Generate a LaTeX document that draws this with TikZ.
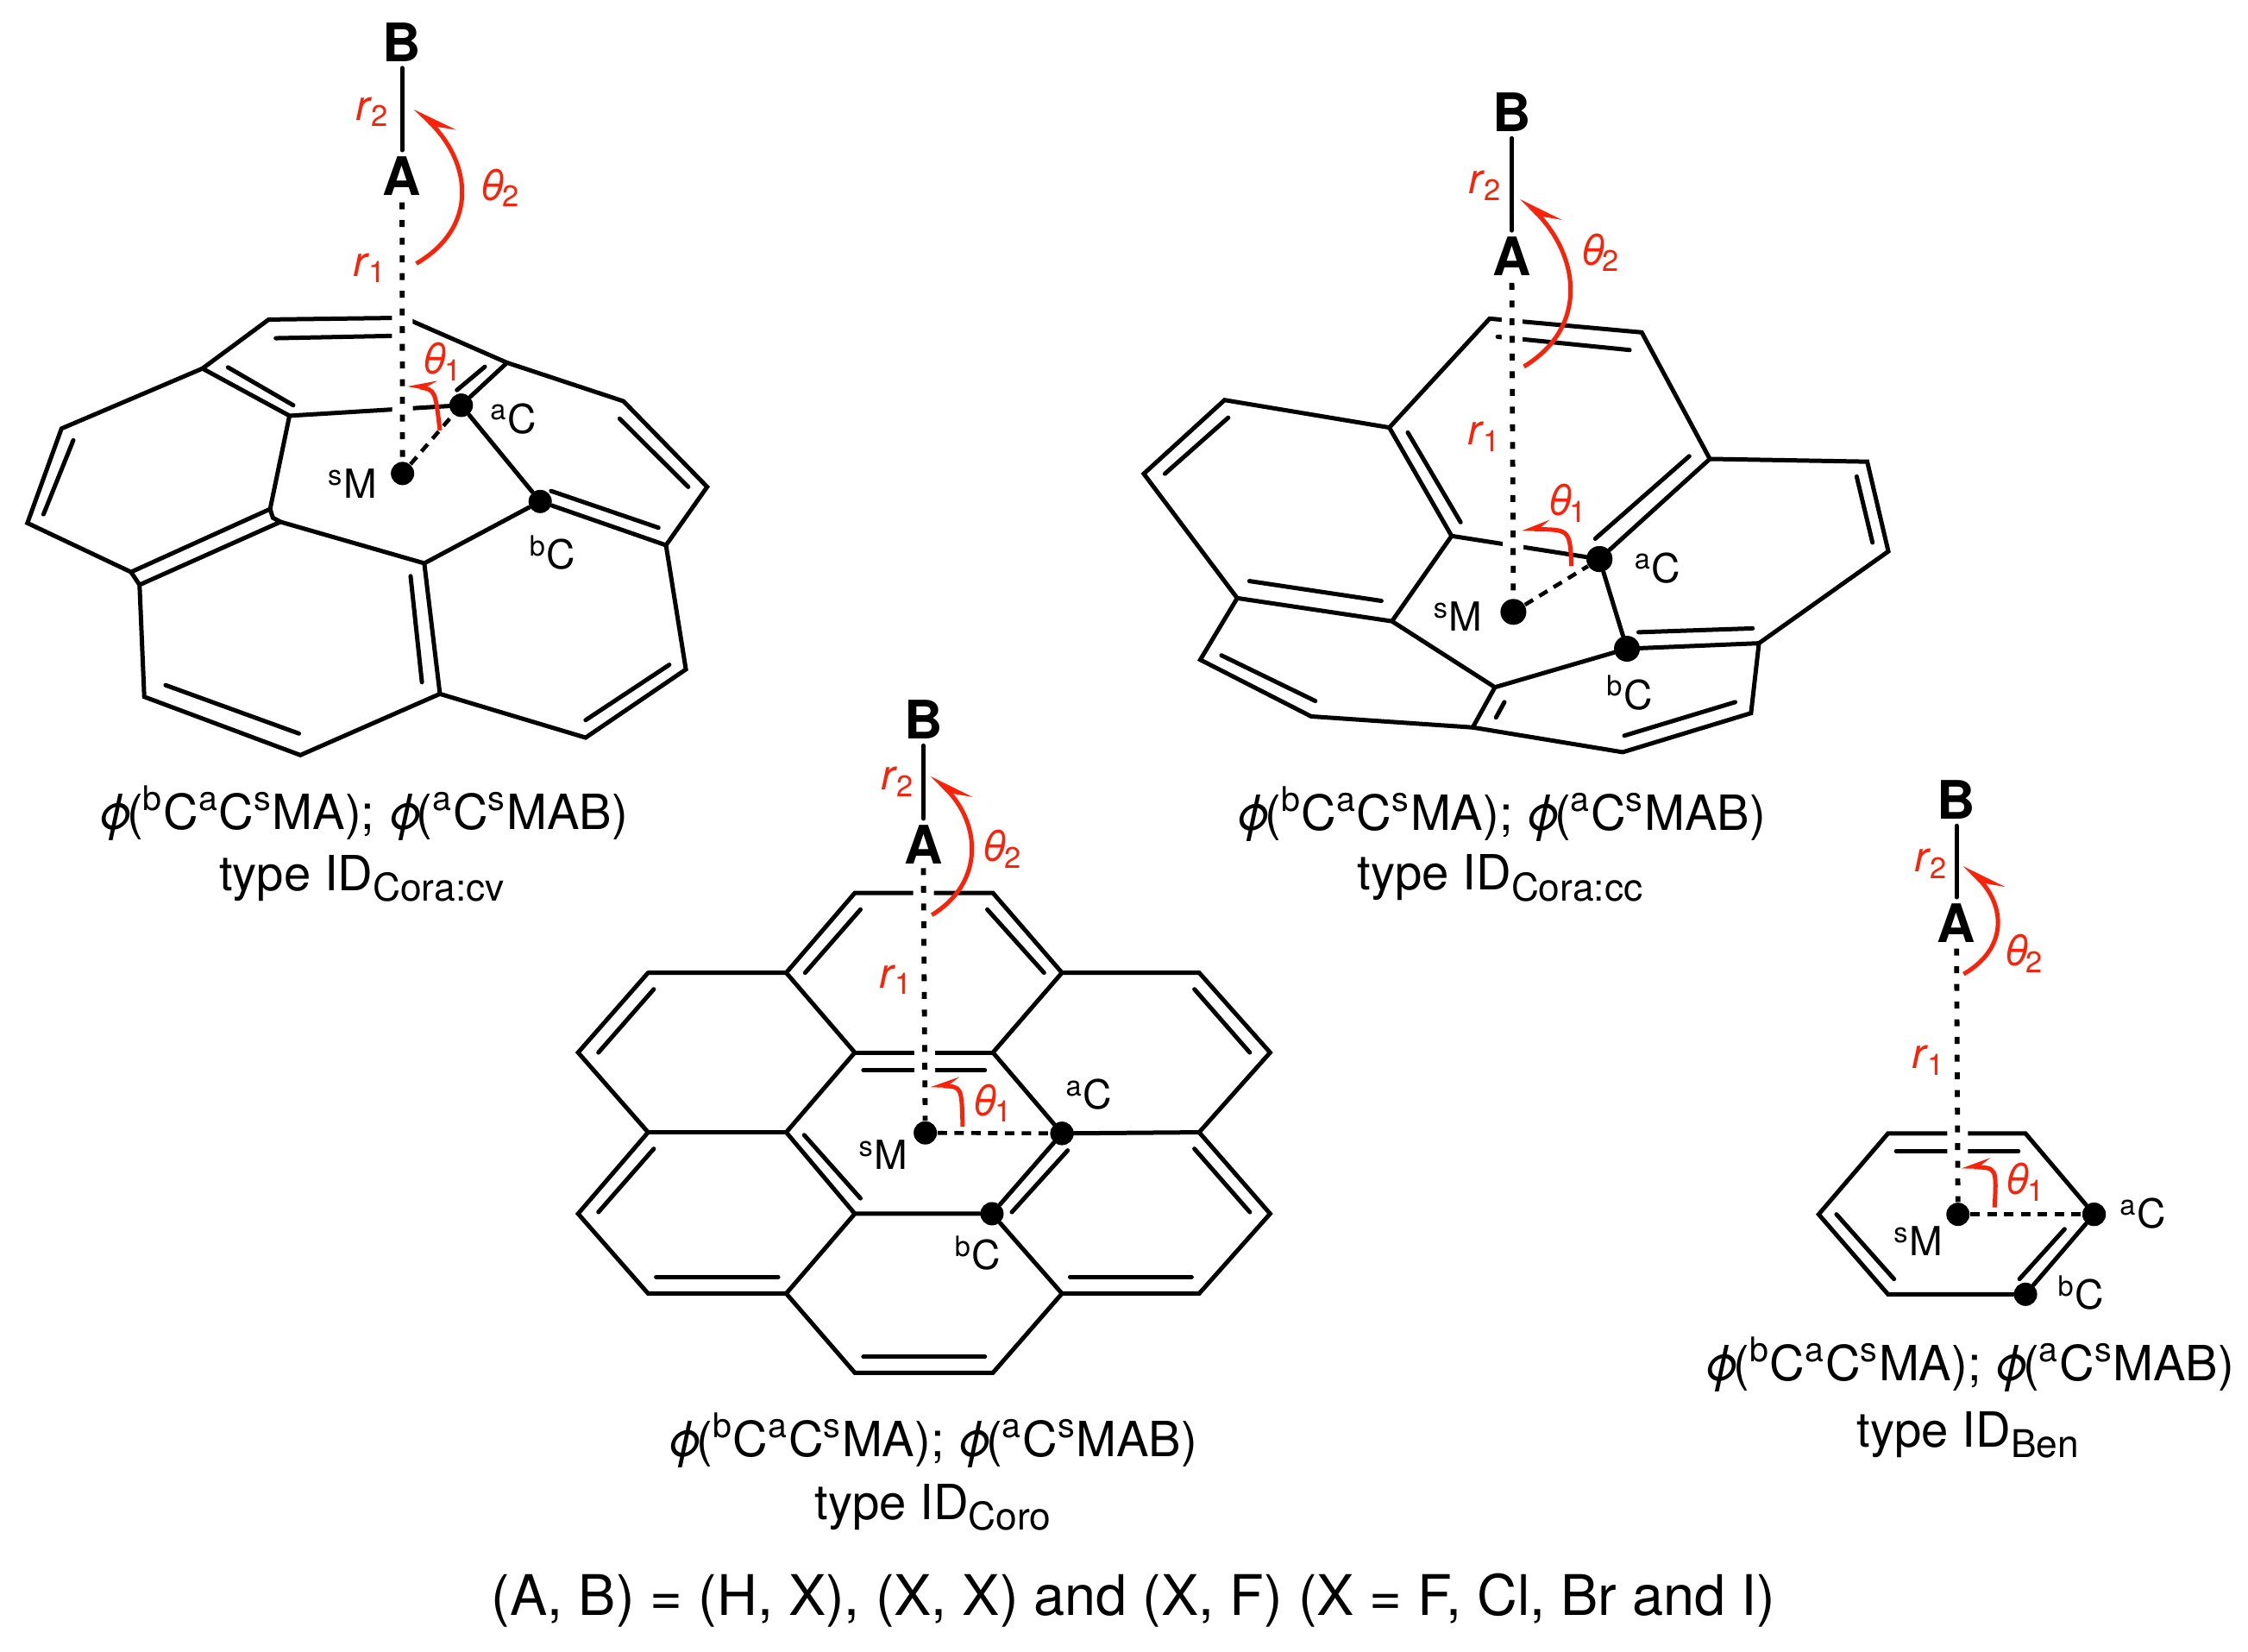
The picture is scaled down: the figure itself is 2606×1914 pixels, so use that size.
\documentclass[tikz,border=0pt]{standalone}
\usepackage{fontspec}
\setmainfont{TeX Gyre Heros}
\usetikzlibrary{arrows.meta}
\newcommand{\phiang}{\textit{ϕ}\kern-.12em}
\newcommand{\supb}[1]{\textsuperscript{#1}}
\newcommand{\subb}[1]{\raisebox{-.22em}{\fontsize{12.6}{13}\selectfont #1}}
\newcommand{\labA}{\phiang(\supb{b}C\supb{a}C\supb{s}MA); \phiang(\supb{a}C\supb{s}MAB)}
\newcommand{\rOne}{\textit{r}\kern-.02em\textsubscript{1}}
\newcommand{\rTwo}{\textit{r}\kern-.02em\textsubscript{2}}
\newcommand{\thOne}{\textit{θ}\kern-.06em\textsubscript{1}}
\newcommand{\thTwo}{\textit{θ}\kern-.06em\textsubscript{2}}
\definecolor{redmark}{RGB}{250,35,10}
\tikzset{
  bond/.style={black,line width=.5mm,line join=miter,line cap=round},
  dotbond/.style={black,line width=.58mm,dash pattern=on .8mm off 1.25mm},
  dashbond/.style={black,line width=.46mm,dash pattern=on 1.1mm off .85mm},
  halo/.style={white,line width=2.4mm},
  angarc/.style={redmark,line width=.5mm,-{Stealth[harpoon,swap,length=4.4mm,width=3mm,inset=2.1mm]}},
  smallarc/.style={redmark,line width=.5mm,-{Stealth[harpoon,swap,length=2.8mm,width=2.2mm,inset=1.3mm]}},
  atomlbl/.style={font=\fontsize{17.5}{18}\selectfont\bfseries,inner sep=.7mm},
  smalllbl/.style={font=\fontsize{13.2}{14}\selectfont,inner sep=0pt},
  redlbl/.style={font=\fontsize{14}{15}\selectfont,text=redmark,inner sep=0pt},
  caplbl/.style={font=\fontsize{16}{17}\selectfont,inner sep=0pt},
  dotatom/.style={circle,fill=black,inner sep=0pt,minimum size=2.7mm},
}
\begin{document}
\begin{tikzpicture}[x=.1mm,y=-.1mm]
\useasboundingbox (0,0) rectangle (2606,1914);
\fill[white] (0,0) rectangle (2606,1914);

%% ---------- type ID Cora:cv ----------
\begin{scope}[x=.054845mm,y=-.0676mm]
\coordinate (a1) at (568,548); \coordinate (a2) at (1072,622); \coordinate (a3) at (428,632);
\coordinate (a4) at (612,713); \coordinate (a5) at (1318,688); \coordinate (a6) at (1495,835);
\coordinate (a7) at (1408,935); \coordinate (a8) at (1450,1148); \coordinate (a9) at (1238,1265);
\coordinate (a10) at (930,1190); \coordinate (a11) at (897,966); \coordinate (a12) at (577,888);
\coordinate (a13) at (593,895); \coordinate (a14) at (295,1003); \coordinate (a15) at (277,981);
\coordinate (a16) at (571,873); \coordinate (a17) at (58,897); \coordinate (a18) at (130,735);
\coordinate (a19) at (305,1195); \coordinate (a20) at (635,1295); \coordinate (a21) at (855,545);
\node[dotatom] (aM) at (851,812) {};
\node[dotatom] (aa) at (975,695) {};
\node[dotatom] (ab) at (1142,860) {};
\node[atomlbl] (aB) at (850,72) {B};
\node[atomlbl] (aA) at (850,302) {A};
\draw[bond] (a21) -- (a1) -- (a3) -- (a4) -- (aa);
\draw[bond] (a21) -- (a2) -- (a5) -- (a6) -- (a7) -- (a8) -- (a9) -- (a10) -- (a20) -- (a19) -- (a14) -- (a13) -- (a11) -- (ab) -- (a7);
\draw[bond] (a2) -- (aa) -- (ab);
\draw[bond] (a10) -- (a11);
\draw[bond] (a4) -- (a16) -- (a12) -- (a13);
\draw[bond] (a16) -- (a15) -- (a17) -- (a18) -- (a3);
\draw[bond] (a15) -- (a14);
\draw[bond] (583,580) -- (830,576);
\draw[bond] (482,630) -- (620,695);
\draw[bond] (966,669) -- (1025,629);
\draw[bond] (1310,718) -- (1455,835);
\draw[bond] (1165,842) -- (1392,905);
\draw[bond] (1238,1235) -- (1415,1140);
\draw[bond] (892,1170) -- (868,988);
\draw[bond] (92,882) -- (155,755);
\draw[bond] (350,1175) -- (632,1258);
\draw[halo] (aA.south) -- (aM);
\draw[bond] (aB) -- (aA);
\draw[dotbond] (aA) ++(0,45) -- (aM);
\draw[dashbond] (aM) -- (aa);
\node[dotatom] at (aa) {};
\draw[angarc] (880,452) .. controls (1011,390) and (998,281) .. (878,185);
\draw[smallarc] (930,738) .. controls (920,669) .. (862,660);
\node[redlbl] (ar2) at (788,192) {\rTwo};
\node[redlbl] (ath2) at (1058,322) {\thTwo};
\node[redlbl] (ar1) at (783,460) {\rOne};
\node[redlbl] (ath1) at (935,620) {\thOne};
\node[smalllbl] (alab1) at (1085,718) {\supb{a}C};
\node[smalllbl] (alab2) at (745,830) {\supb{s}M};
\node[smalllbl] (alab3) at (1168,948) {\supb{b}C};
\node[caplbl] (acap1) at (768,1395) {\labA};
\node[caplbl] (acap2) at (765,1507) {type ID\subb{Cora:cv}};
\end{scope}

%% ---------- type ID Cora:cc ----------
\begin{scope}[xshift=128mm,yshift=-6mm,x=.061224mm,y=-.06378mm]
\coordinate (b1) at (730,485); \coordinate (b2) at (1018,510); \coordinate (b3) at (540,683);
\coordinate (b4) at (658,880); \coordinate (b5) at (1147,740); \coordinate (b6) at (1445,745);
\coordinate (b7) at (1485,908); \coordinate (b8) at (1240,1075); \coordinate (b9) at (1225,1202);
\coordinate (b10) at (982,1273); \coordinate (b11) at (698,1228); \coordinate (b12) at (740,1155);
\coordinate (b13) at (545,1035); \coordinate (b14) at (252,993); \coordinate (b15) at (228,633);
\coordinate (b16) at (75,767); \coordinate (b17) at (182,1105); \coordinate (b18) at (392,1208);
\node[dotatom,minimum size=3mm] (bM) at (775,1018) {};
\node[dotatom,minimum size=3mm] (ba) at (938,922) {};
\node[dotatom,minimum size=3mm] (bb) at (990,1085) {};
\node[atomlbl] (bB) at (772,110) {B};
\node[atomlbl] (bA) at (772,372) {A};
\draw[bond] (b3) -- (b1) -- (b2) -- (b5) -- (b6) -- (b7) -- (b8) -- (b9) -- (b10) -- (b11) -- (b18) -- (b17) -- (b14) -- (b16) -- (b15) -- (b3) -- (b4) -- (ba) -- (bb) -- (b12) -- (b13) -- (b14);
\draw[bond] (b5) -- (ba);
\draw[bond] (bb) -- (b8);
\draw[bond] (b11) -- (b12);
\draw[bond] (b13) -- (b4);
\draw[bond] (745,518) -- (995,542);
\draw[bond] (575,692) -- (675,855);
\draw[bond] (1108,735) -- (930,885);
\draw[bond] (1425,772) -- (1455,892);
\draw[bond] (1228,1048) -- (1012,1055);
\draw[bond] (985,1243) -- (1195,1182);
\draw[bond] (742,1210) -- (758,1182);
\draw[bond] (275,962) -- (525,998);
\draw[bond] (115,767) -- (235,665);
\draw[bond] (222,1097) -- (400,1180);
\draw[halo] (bA.south) -- (bM);
\draw[bond] (bB) -- (bA);
\draw[dotbond] (bA) ++(0,48) -- (bM);
\draw[dashbond] (bM) -- (ba);
\node[dotatom,minimum size=3mm] at (ba) {};
\draw[angarc] (795,572) .. controls (917,501) and (901,372) .. (790,265);
\draw[smallarc] (885,935) .. controls (882,868) .. (790,868);
\node[redlbl] (br2) at (722,243) {\rTwo};
\node[redlbl] (bth2) at (940,365) {\thTwo};
\node[redlbl] (br1) at (720,700) {\rOne};
\node[redlbl] (bth1) at (878,820) {\thOne};
\node[smalllbl] (blab1) at (1048,938) {\supb{a}C};
\node[smalllbl] (blab2) at (670,1026) {\supb{s}M};
\node[smalllbl] (blab3) at (995,1165) {\supb{b}C};
\node[caplbl] (bcap1) at (752,1385) {\labA};
\node[caplbl] (bcap2) at (750,1502) {type ID\subb{Cora:cc}};
\end{scope}

%% ---------- type ID Coro ----------
\begin{scope}[xshift=64mm,yshift=-78mm,x=.054845mm,y=-.06378mm]
\coordinate (c1) at (640,400); \coordinate (c2) at (932,400);
\coordinate (c3) at (203,545); \coordinate (c4) at (495,545); \coordinate (c5) at (1078,545); \coordinate (c6) at (1368,545);
\coordinate (c7) at (55,690); \coordinate (c8) at (640,690); \coordinate (c9) at (932,690); \coordinate (c10) at (1518,690);
\coordinate (c11) at (203,835); \coordinate (c12) at (495,835); \coordinate (c13) at (1368,835);
\coordinate (c14) at (55,983); \coordinate (c15) at (640,983); \coordinate (c16) at (1518,983);
\coordinate (c17) at (203,1128); \coordinate (c18) at (495,1128); \coordinate (c19) at (1078,1128); \coordinate (c20) at (1368,1128);
\coordinate (c21) at (640,1272); \coordinate (c22) at (932,1272);
\node[dotatom] (cM) at (789,836) {};
\node[dotatom] (ca) at (1078,837) {};
\node[dotatom] (cb) at (930,983) {};
\node[atomlbl] (cB) at (785,85) {B};
\node[atomlbl] (cA) at (785,312) {A};
\draw[bond] (c3) -- (c4) -- (c1) -- (c2) -- (c5) -- (c6) -- (c10) -- (c13) -- (c16) -- (c20) -- (c19) -- (c22) -- (c21) -- (c18) -- (c17) -- (c14) -- (c11) -- (c7) -- (c3);
\draw[bond] (c4) -- (c8) -- (c12) -- (c15) -- (cb) -- (ca) -- (c9) -- (c5);
\draw[bond] (c8) -- (c9);
\draw[bond] (c11) -- (c12);
\draw[bond] (ca) -- (c13);
\draw[bond] (c15) -- (c18);
\draw[bond] (cb) -- (c19);
\draw[bond] (652,430) -- (535,545);
\draw[bond] (920,430) -- (1040,545);
\draw[bond] (215,575) -- (98,690);
\draw[bond] (1358,575) -- (1475,690);
\draw[bond] (658,722) -- (915,722);
\draw[bond] (533,840) -- (652,955);
\draw[bond] (972,980) -- (1090,868);
\draw[bond] (1095,1098) -- (1352,1098);
\draw[bond] (1358,865) -- (1475,980);
\draw[bond] (215,865) -- (98,980);
\draw[bond] (220,1098) -- (478,1098);
\draw[bond] (658,1243) -- (915,1243);
\draw[halo] (cA.south) -- (cM);
\draw[bond] (cB) -- (cA);
\draw[dotbond] (cA) ++(0,43) -- (cM);
\draw[dashbond] (cM) -- (ca);
\node[dotatom] at (ca) {};
\draw[angarc] (803,440) .. controls (916,380) and (905,273) .. (803,185);
\draw[smallarc] (868,825) .. controls (866,752) .. (800,750);
\node[redlbl] (cr2) at (732,198) {\rTwo};
\node[redlbl] (cth2) at (952,320) {\thTwo};
\node[redlbl] (cr1) at (728,558) {\rOne};
\node[redlbl] (cth1) at (932,782) {\thOne};
\node[smalllbl] (clab1) at (1135,766) {\supb{a}C};
\node[smalllbl] (clab2) at (700,876) {\supb{s}M};
\node[smalllbl] (clab3) at (900,1055) {\supb{b}C};
\node[caplbl] (ccap1) at (805,1395) {\labA};
\node[caplbl] (ccap2) at (805,1517) {type ID\subb{Coro}};
\end{scope}

%% ---------- type ID Ben ----------
\begin{scope}[xshift=196mm,yshift=-88mm,x=.0412mm,y=-.05357mm]
\coordinate (d1) at (360,985); \coordinate (d2) at (555,810); \coordinate (d3) at (942,810); \coordinate (d4) at (555,1158);
\node[dotatom] (dM) at (752,985) {};
\node[dotatom] (da) at (1135,985) {};
\node[dotatom] (db) at (942,1158) {};
\node[atomlbl] (dB) at (748,88) {B};
\node[atomlbl] (dA) at (748,355) {A};
\draw[bond] (db) -- (d4) -- (d1) -- (d2) -- (d3) -- (da) -- (db);
\draw[bond] (578,848) -- (922,848);
\draw[bond] (410,985) -- (572,1125);
\draw[bond] (1052,1017) -- (925,1125);
\draw[halo] (dA.south) -- (dM);
\draw[bond] (dB) -- (dA);
\draw[dotbond] (dA) ++(0,55) -- (dM);
\draw[dashbond] (dM) -- (da);
\node[dotatom] at (da) {};
\draw[angarc] (768,465) .. controls (894,409) and (884,316) .. (770,228);
\draw[smallarc] (855,970) .. controls (861,884) .. (762,882);
\node[redlbl] (dr2) at (677,226) {\rTwo};
\node[redlbl] (dth2) at (938,420) {\thTwo};
\node[redlbl] (dr1) at (670,652) {\rOne};
\node[redlbl] (dth1) at (942,915) {\thOne};
\node[smalllbl] (dlab1) at (1272,983) {\supb{a}C};
\node[smalllbl] (dlab2) at (640,1043) {\supb{s}M};
\node[smalllbl] (dlab3) at (1098,1155) {\supb{b}C};
\node[caplbl] (dcap1) at (785,1310) {\labA};
\node[caplbl] (dcap2) at (780,1462) {type ID\subb{Ben}};
\end{scope}

\node[font=\fontsize{18.45}{19}\selectfont,inner sep=0pt] (foot) at (1314,1855) {(A, B) = (H, X), (X, X) and (X, F) (X = F, Cl, Br and I)};
\end{tikzpicture}
\end{document}
